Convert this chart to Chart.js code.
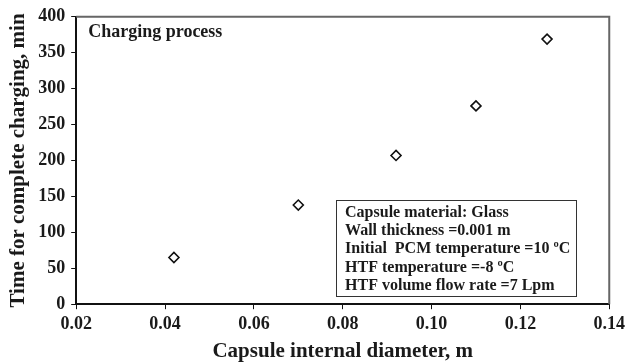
<!DOCTYPE html>
<html>
<head>
<meta charset="utf-8">
<script src="https://cdn.jsdelivr.net/npm/chart.js@4.4.1/dist/chart.umd.min.js"></script>
<style>
  html, body { margin: 0; padding: 0; background: #fff; }
  #wrap { width: 629px; height: 364px; }
</style>
</head>
<body>
<div id="wrap"><canvas id="chart"></canvas></div>
<script>
// capsule internal diameter (m) vs. time for complete charging (min)
const diameters = [0.042, 0.070, 0.092, 0.110, 0.126];
const chargeTimes = [65, 138, 207, 276, 369];

const xTicks = [0.02, 0.04, 0.06, 0.08, 0.10, 0.12, 0.14];
const yTicks = [0, 50, 100, 150, 200, 250, 300, 350, 400];

const caseLabel = 'Charging process';
const conditionLines = [
  'Capsule material: Glass',
  'Wall thickness =0.001 m',
  'Initial  PCM temperature =10 \u00baC',
  'HTF temperature =-8 \u00baC',
  'HTF volume flow rate =7 Lpm'
];

const serif = '"Liberation Serif", "Times New Roman", serif';

// grey frame on top/right, then the labels and the conditions box
const annotations = {
  id: 'annotations',
  beforeDatasetsDraw(chart) {
    const { ctx, chartArea: a } = chart;
    ctx.save();
    ctx.strokeStyle = '#666';
    ctx.lineWidth = 2;
    ctx.beginPath();
    ctx.moveTo(a.left, a.top);
    ctx.lineTo(a.right, a.top);
    ctx.lineTo(a.right, a.bottom);
    ctx.stroke();
    ctx.restore();
  },
  afterDraw(chart) {
    const { ctx, chartArea: a, scales } = chart;
    ctx.save();
    ctx.fillStyle = '#1a1a1a';
    ctx.font = 'bold 18px ' + serif;
    ctx.textBaseline = 'alphabetic';
    ctx.fillText(caseLabel, a.left + 12, a.top + 20);

    // conditions box
    const bx = scales.x.getPixelForValue(0.0785);
    const by = scales.y.getPixelForValue(145);
    const bw = scales.x.getPixelForValue(0.1326) - bx;
    const bh = scales.y.getPixelForValue(11) - by;
    ctx.fillStyle = '#fff';
    ctx.fillRect(bx, by, bw, bh);
    ctx.strokeStyle = '#333';
    ctx.lineWidth = 1;
    ctx.strokeRect(Math.round(bx) + 0.5, Math.round(by) + 0.5, Math.round(bw), Math.round(bh));
    ctx.fillStyle = '#1a1a1a';
    ctx.font = 'bold 16px ' + serif;
    conditionLines.forEach((t, i) => {
      ctx.fillText(t, bx + 9, by + 17 + i * 18.2);
    });
    ctx.restore();
  }
};

const ctx = document.getElementById('chart').getContext('2d');
new Chart(ctx, {
  type: 'scatter',
  data: {
    datasets: [{
      data: diameters.map((d, i) => ({ x: d, y: chargeTimes[i] })),
      pointStyle: 'rectRot',
      pointRadius: 5,
      pointBorderWidth: 1.6,
      pointBorderColor: '#111',
      pointBackgroundColor: '#fff'
    }]
  },
  options: {
    responsive: true,
    maintainAspectRatio: false,
    animation: false,
    layout: { padding: { top: 9, right: 16, left: 1, bottom: 0 } },
    plugins: { legend: { display: false }, tooltip: { enabled: false } },
    scales: {
      x: {
        type: 'linear',
        min: 0.02,
        max: 0.14,
        afterBuildTicks: (s) => { s.ticks = xTicks.map(v => ({ value: v })); },
        grid: { drawOnChartArea: false, drawTicks: true, tickLength: 5, color: '#111' },
        border: { color: '#111', width: 2 },
        ticks: {
          color: '#1a1a1a',
          padding: 4,
          font: { family: serif, size: 18, weight: 'bold' },
          callback: (v) => v.toFixed(2)
        },
        title: {
          display: true,
          text: 'Capsule internal diameter, m',
          color: '#1a1a1a',
          padding: { top: 0, bottom: 0 },
          font: { family: serif, size: 21, weight: 'bold' }
        }
      },
      y: {
        min: 0,
        max: 400,
        afterBuildTicks: (s) => { s.ticks = yTicks.map(v => ({ value: v })); },
        grid: { drawOnChartArea: false, drawTicks: true, tickLength: 5, color: '#111' },
        border: { color: '#111', width: 2 },
        ticks: {
          color: '#1a1a1a',
          padding: 6,
          font: { family: serif, size: 18, weight: 'bold' }
        },
        title: {
          display: true,
          text: 'Time for complete charging, min',
          color: '#1a1a1a',
          padding: { top: 5, bottom: 1 },
          font: { family: serif, size: 21, weight: 'bold' }
        }
      }
    }
  },
  plugins: [annotations]
});
</script>
</body>
</html>
